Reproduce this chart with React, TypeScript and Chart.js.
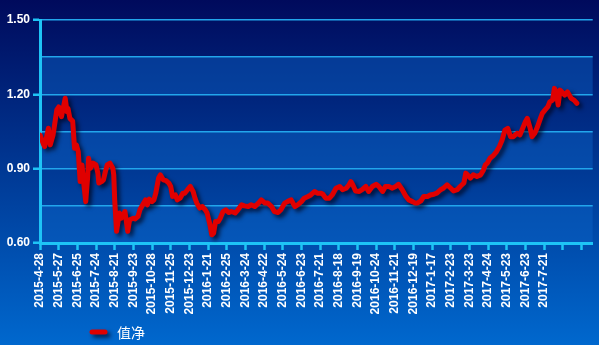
import React, { useEffect, useRef } from 'react';
import { Chart, registerables } from 'chart.js';

Chart.register(...registerables);

const seriesName = '值净';

// trading-day index of each sampled point
const dayIndex = [
  0, 4, 5, 9, 11, 14, 18, 20, 23, 27, 29, 30, 32, 35, 37, 39, 41, 43, 45, 47,
  49, 51, 52, 54, 57, 60, 62, 63, 66, 68, 70, 72, 75, 78, 79, 80, 82, 85, 87, 91,
  94, 96, 100, 102, 105, 107, 110, 113, 115, 117, 120, 122, 124, 127, 129, 132, 135, 138, 140, 142,
  145, 147, 150, 153, 155, 158, 161, 164, 166, 168, 171, 174, 177, 179, 182, 184, 186, 188, 191, 193,
  196, 199, 202, 205, 209, 212, 216, 219, 223, 226, 230, 234, 237, 241, 244, 248, 251, 255, 258, 262,
  265, 269, 273, 276, 280, 283, 287, 290, 294, 297, 301, 303, 306, 310, 313, 317, 321, 324, 328, 331,
  333, 335, 338, 342, 345, 349, 352, 356, 360, 363, 367, 370, 374, 377, 381, 384, 388, 392, 395, 399,
  402, 404, 408, 411, 415, 418, 422, 425, 429, 432, 436, 440, 443, 447, 450, 454, 456, 458, 461, 464,
  468, 472, 475, 477, 479, 482, 486, 489, 492, 495, 498, 501, 504, 507, 511, 514, 517, 520, 522, 525,
  527, 530, 533, 536, 538, 541, 544, 546, 549, 551, 553, 555, 557, 559, 562, 565, 568, 569, 572, 575,
];

// net value at each sampled point
const navValues = [
  1.036, 0.996, 0.989, 1.063, 0.996, 1.036, 1.137, 1.149, 1.110, 1.184, 1.130, 1.143, 1.103, 1.092, 0.982, 0.996, 0.969, 0.848, 0.915, 0.835,
  0.767, 0.863, 0.942, 0.902, 0.922, 0.915, 0.882, 0.842, 0.848, 0.855, 0.888, 0.915, 0.922, 0.902, 0.875, 0.774, 0.647, 0.721, 0.700, 0.727,
  0.647, 0.694, 0.700, 0.697, 0.707, 0.734, 0.754, 0.774, 0.754, 0.777, 0.767, 0.774, 0.801, 0.862, 0.875, 0.855, 0.852, 0.842, 0.828, 0.788,
  0.794, 0.774, 0.781, 0.801, 0.801, 0.815, 0.828, 0.808, 0.781, 0.761, 0.741, 0.747, 0.734, 0.721, 0.674, 0.633, 0.640, 0.687, 0.687, 0.700,
  0.727, 0.734, 0.723, 0.727, 0.721, 0.734, 0.754, 0.750, 0.747, 0.754, 0.747, 0.761, 0.774, 0.761, 0.761, 0.747, 0.727, 0.723, 0.734, 0.761,
  0.767, 0.774, 0.747, 0.754, 0.767, 0.781, 0.788, 0.794, 0.808, 0.801, 0.801, 0.797, 0.781, 0.781, 0.794, 0.821, 0.828, 0.815, 0.821, 0.835,
  0.848, 0.835, 0.810, 0.808, 0.815, 0.828, 0.808, 0.828, 0.837, 0.828, 0.808, 0.828, 0.828, 0.821, 0.828, 0.837, 0.815, 0.788, 0.774, 0.767,
  0.761, 0.761, 0.770, 0.788, 0.788, 0.794, 0.797, 0.801, 0.815, 0.821, 0.835, 0.821, 0.810, 0.815, 0.828, 0.842, 0.882, 0.875, 0.862, 0.875,
  0.868, 0.875, 0.895, 0.915, 0.922, 0.942, 0.955, 0.969, 0.989, 1.016, 1.056, 1.063, 1.029, 1.029, 1.043, 1.036, 1.063, 1.090, 1.103, 1.063,
  1.029, 1.043, 1.070, 1.103, 1.123, 1.137, 1.150, 1.170, 1.177, 1.224, 1.210, 1.157, 1.217, 1.210, 1.197, 1.210, 1.190, 1.184, 1.177, 1.164,
];

// one tick label every 20 trading days
const xTickLabels = [
  '2015-4-28', '2015-5-27', '2015-6-25', '2015-7-24', '2015-8-21', '2015-9-23', '2015-10-28', '2015-11-25',
  '2015-12-23', '2016-1-21', '2016-2-25', '2016-3-24', '2016-4-22', '2016-5-24', '2016-6-23', '2016-7-21',
  '2016-8-18', '2016-9-19', '2016-10-24', '2016-11-21', '2016-12-19', '2017-1-17', '2017-2-23', '2017-3-23',
  '2017-4-24', '2017-5-23', '2017-6-23', '2017-7-21', '', '',
];
const xTickStep = 20;
const xMax = 592;

const yGridValues = [0.6, 0.75, 0.9, 1.05, 1.2, 1.35, 1.5];
const yLabelValues = [0.6, 0.9, 1.2, 1.5];
const bandLows = [0.6, 0.9, 1.2];
const bandHighs = [0.75, 1.05, 1.35];

const CYAN = '#1ec4f6';
const GRID = '#22a6ec';
const FONT = "'Liberation Sans', Arial, sans-serif";

const isLabelValue = (v: number) => yLabelValues.some((l) => Math.abs(l - v) < 1e-9);

export default function App() {
  const ref = useRef<HTMLCanvasElement | null>(null);

  useEffect(() => {
    document.body.style.margin = '0';
    const canvas = ref.current;
    if (!canvas) return;

    const bgPlugin = {
      id: 'bg',
      beforeDraw(chart: any) {
        const { ctx, width, height, chartArea, scales } = chart;
        ctx.save();
        const g = ctx.createLinearGradient(0, 0, 0, height);
        g.addColorStop(0, '#000a5c');
        g.addColorStop(1, '#0068ce');
        ctx.fillStyle = g;
        ctx.fillRect(0, 0, width, height);
        const y = scales.y;
        ctx.fillStyle = 'rgba(10,100,200,0.45)';
        for (let i = 0; i < bandLows.length; i++) {
          const top = y.getPixelForValue(bandHighs[i]);
          const bot = y.getPixelForValue(bandLows[i]);
          ctx.fillRect(chartArea.left, top, chartArea.right - chartArea.left, bot - top);
        }
        ctx.restore();
      },
    };

    const shadowPlugin = {
      id: 'shadow',
      beforeDatasetsDraw(chart: any) {
        const ctx = chart.ctx;
        ctx.save();
        ctx.shadowColor = 'rgba(0,0,20,0.7)';
        ctx.shadowBlur = 4;
        ctx.shadowOffsetX = 3;
        ctx.shadowOffsetY = 3;
      },
      afterDatasetsDraw(chart: any) {
        chart.ctx.restore();
      },
    };

    const legendPlugin = {
      id: 'customLegend',
      afterDraw(chart: any) {
        const ctx = chart.ctx;
        const ds = chart.data.datasets[0];
        ctx.save();
        ctx.shadowColor = 'rgba(0,0,20,0.7)';
        ctx.shadowBlur = 4;
        ctx.shadowOffsetX = 3;
        ctx.shadowOffsetY = 3;
        ctx.strokeStyle = ds.borderColor;
        ctx.lineWidth = 5;
        ctx.lineCap = 'round';
        ctx.beginPath();
        ctx.moveTo(92, 332);
        ctx.lineTo(105, 332);
        ctx.stroke();
        ctx.restore();
        ctx.save();
        ctx.fillStyle = '#ffffff';
        ctx.font = "14px 'Noto Sans CJK SC', sans-serif";
        ctx.textBaseline = 'middle';
        ctx.textAlign = 'left';
        ctx.fillText(ds.label, 117, 333);
        ctx.restore();
      },
    };

    const chart = new Chart(canvas, {
      type: 'line',
      data: {
        datasets: [
          {
            label: seriesName,
            data: dayIndex.map((d, i) => ({ x: d, y: navValues[i] })),
            borderColor: '#e00000',
            borderWidth: 5,
            pointRadius: 0,
            tension: 0,
            borderJoinStyle: 'round',
            borderCapStyle: 'round',
          } as any,
        ],
      },
      options: {
        animation: false,
        responsive: false,
        layout: { padding: { left: 7, right: 5, top: 20, bottom: 0 } },
        plugins: { legend: { display: false }, tooltip: { enabled: false } },
        scales: {
          x: {
            type: 'linear',
            min: 0,
            max: xMax,
            afterBuildTicks(scale: any) {
              scale.ticks = xTickLabels.map((_, i) => ({ value: i * xTickStep }));
            },
            afterFit(scale: any) {
              scale.height = 102;
            },
            ticks: {
              autoSkip: false,
              minRotation: 90,
              maxRotation: 90,
              padding: 3,
              color: '#ffffff',
              font: { family: FONT, size: 12, weight: 'bold' },
              callback: (_v: any, i: number) => xTickLabels[i] ?? '',
            },
            grid: {
              drawOnChartArea: false,
              drawTicks: true,
              tickLength: 7,
              tickColor: CYAN,
              tickWidth: 2.5,
            },
            border: { color: CYAN, width: 3 },
          },
          y: {
            min: 0.6,
            max: 1.5,
            afterBuildTicks(scale: any) {
              scale.ticks = yGridValues.map((v) => ({ value: v }));
            },
            afterFit(scale: any) {
              scale.width = 33;
            },
            ticks: {
              padding: 3,
              color: '#ffffff',
              font: { family: FONT, size: 12, weight: 'bold' },
              callback: (v: any) => (isLabelValue(Number(v)) ? Number(v).toFixed(2) : ''),
            },
            grid: {
              color: GRID,
              lineWidth: 1.5,
              tickLength: 7,
              tickWidth: 2.5,
              tickColor: (c: any) => (c.tick && isLabelValue(c.tick.value) ? CYAN : 'rgba(0,0,0,0)'),
            },
            border: { color: CYAN, width: 3 },
          },
        },
      } as any,
      plugins: [bgPlugin, shadowPlugin, legendPlugin],
    });

    return () => chart.destroy();
  }, []);

  return (
    <div style={{ width: 599, height: 345 }}>
      <canvas ref={ref} width={599} height={345} style={{ display: 'block' }} />
    </div>
  );
}
